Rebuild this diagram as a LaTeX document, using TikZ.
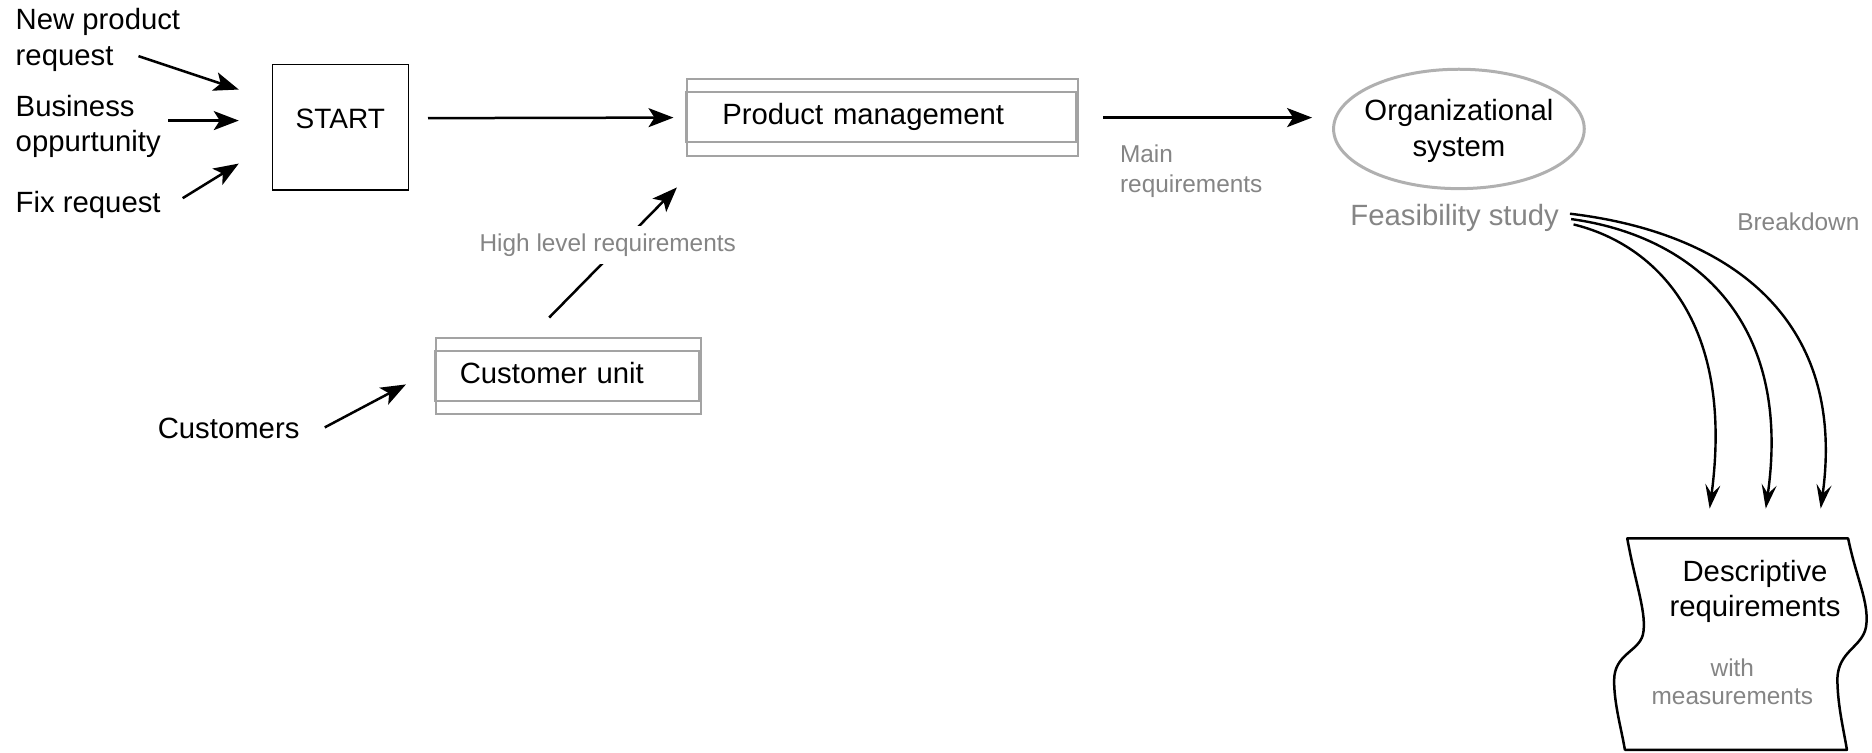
\documentclass[tikz,border=0pt]{standalone}
\usepackage{fontspec}
\setmainfont{Liberation Sans}
\usetikzlibrary{arrows.meta,shapes.geometric}

\definecolor{labelgray}{HTML}{858585}
\definecolor{boxgray}{HTML}{A3A3A3}
\definecolor{ellgray}{HTML}{B0B0B0}

% multi-line text whose baseline is that of its first line
\newcommand{\stackl}[1]{\begin{tabular}[t]{@{}l@{}}#1\end{tabular}}
\newcommand{\stackc}[1]{\begin{tabular}[t]{@{}c@{}}#1\end{tabular}}

\begin{document}
\begin{tikzpicture}[
  x=1.194pt, y=-1.194pt,
  txt/.style={font=\fontsize{29.3}{35.5}\selectfont, inner sep=0pt, text=black},
  gtxt/.style={font=\fontsize{24.4}{29.3}\selectfont, inner sep=0pt, text=labelgray},
  arr/.style={line width=2.5pt, -{Stealth[length=25pt,width=19pt,inset=6pt]}},
  carr/.style={line width=2.4pt, -{Stealth[length=24pt,width=15pt,inset=9pt]}},
  startbox/.style={draw, line width=1.5pt, minimum width=136pt, minimum height=125.4pt,
    font=\fontsize{28}{33}\selectfont, text height=20pt, text depth=16.4pt, inner sep=0pt},
  procbox/.style={draw=boxgray, line width=2pt, font=\fontsize{29.3}{35.5}\selectfont,
    align=left, text height=21pt, text depth=6.2pt, inner ysep=0pt},
  gline/.style={draw=boxgray, line width=2pt},
  orgell/.style={ellipse, draw=ellgray, line width=3pt, minimum width=250.7pt,
    minimum height=119.4pt, inner sep=0pt},
  docline/.style={line width=2.5pt, line join=round},
]
\fill[white] (0,0) rectangle (1568,630);
\useasboundingbox (0,0) rectangle (1568,630);

% incoming requests
\node[txt, anchor=base west] (np) at (13,25) {\stackl{New product\\request}};
\node[txt, anchor=base west] (bo) at (13,97.5) {\stackl{Business\\oppurtunity}};
\node[txt, anchor=base west] (fix) at (13,178) {Fix request};
\node[txt, anchor=base west] (cust) at (132,367) {Customers};

% process boxes
\node[startbox] (start) at (285,106.5) {START};
\node[procbox, text width=320pt, inner xsep=35.8pt, minimum height=77.6pt] (pm) at (739,98.5) {Product management};
\draw[gline] ([yshift=-14.3pt]pm.north west) rectangle ([xshift=-3pt,yshift=15.5pt]pm.south east);
\node[procbox, text width=217pt, inner xsep=23.9pt, minimum height=76.4pt] (cu) at (476,315) {Customer unit};
\draw[gline] ([yshift=-14.3pt]cu.north west) rectangle ([xshift=-3pt,yshift=14.3pt]cu.south east);

% organizational system
\node[orgell] (org) at (1222,108) {};
\node[txt, anchor=base] (orgtxt) at (1222,101) {\stackc{Organizational\\system}};
\node[txt, text=labelgray, anchor=base west] (feas) at (1131,188.5) {Feasibility study};
\node[gtxt, anchor=base west] (brk) at (1455,193) {Breakdown};
\node[gtxt, anchor=base west] (mainreq) at (938,136.5) {\stackl{Main\\requirements}};

% descriptive requirements sheet
\draw[docline] (1363,451) -- (1548,451)
  .. controls (1555,485) and (1566,505) .. (1563,525)
  .. controls (1560,542) and (1540,545) .. (1539,568)
  .. controls (1539,590) and (1544,610) .. (1547,628)
  -- (1361,628)
  .. controls (1358,610) and (1352,590) .. (1352,570)
  .. controls (1352,548) and (1372,546) .. (1376,532)
  .. controls (1380,515) and (1370,490) .. (1363,451) -- cycle;
\node[txt, anchor=base] (desc) at (1470,487) {\stackc{Descriptive\\requirements}};
\node[gtxt, font=\fontsize{24.4}{27.5}\selectfont, anchor=base] (meas) at (1451,567) {\stackc{with\\measurements}};

% connector end points
\coordinate (np-o) at (116,47);   \coordinate (np-i) at (200,75);
\coordinate (bo-o) at (141,101);  \coordinate (bo-i) at (200,101);
\coordinate (fix-o) at (153,166); \coordinate (fix-i) at (200,137);
\coordinate (cust-o) at (272,358); \coordinate (cust-i) at (340,322);
\coordinate (cu-o) at (460,266);  \coordinate (pm-i) at (567,157);
\coordinate (org-i) at (1099,98.5);
\coordinate (fa) at (1318,188);   \coordinate (da) at (1432,426);
\coordinate (fb) at (1316,183.5); \coordinate (db) at (1479,426);
\coordinate (fc) at (1315,179);   \coordinate (dc) at (1525,426);

\draw[arr] (np-o) -- (np-i);
\draw[arr] (bo-o) -- (bo-i);
\draw[arr] (fix-o) -- (fix-i);
\draw[arr] (cust-o) -- (cust-i);
\draw[arr] ([xshift=19pt,yshift=9pt]start.east) -- ([xshift=-12pt]pm.west);
\draw[arr, shorten <=24pt] (pm.east) -- (org-i);
\draw[arr] (cu-o) -- node[pos=0.56, gtxt, fill=white, xshift=-13pt, inner xsep=2pt, inner ysep=7.6pt] (hlr) {High level requirements} (pm-i);

% breakdown arrows
\draw[carr] (fa) .. controls (1380,203) and (1454,262) .. (da);
\draw[carr] (fb) .. controls (1415,197) and (1502,265) .. (db);
\draw[carr] (fc) .. controls (1450,195) and (1547,268) .. (dc);
\end{tikzpicture}
\end{document}
